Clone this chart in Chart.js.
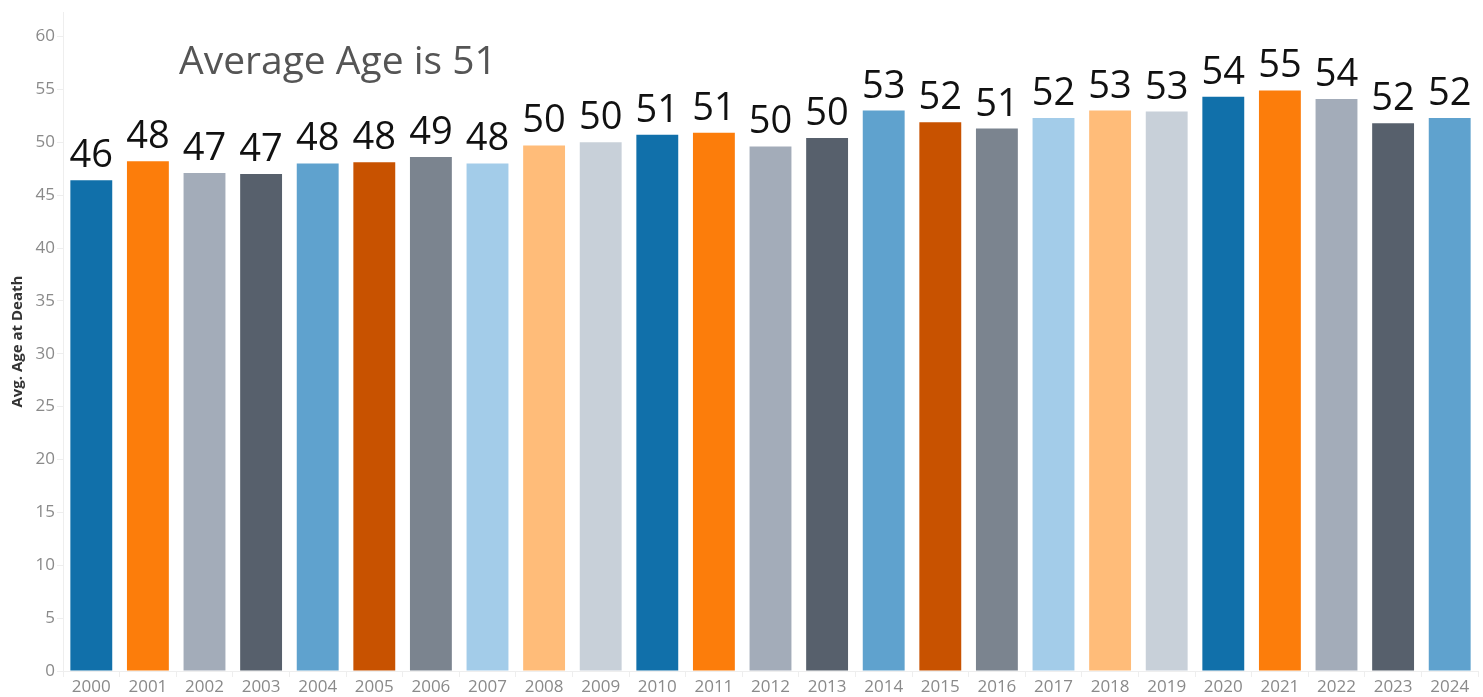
<!DOCTYPE html>
<html>
<head>
<meta charset="utf-8">
<script src="https://cdn.jsdelivr.net/npm/chart.js@4"></script>
<style>
  html, body { margin: 0; padding: 0; background: #fff; }
  #wrap { width: 1483px; height: 697px; }
</style>
</head>
<body>
<div id="wrap"><canvas id="ageChart" width="1483" height="697"></canvas></div>
<script>
// Dados do gráfico
const years = ['2000','2001','2002','2003','2004','2005','2006','2007','2008','2009',
               '2010','2011','2012','2013','2014','2015','2016','2017','2018','2019',
               '2020','2021','2022','2023','2024'];
const avgAge = [46.4, 48.2, 47.1, 47.0, 48.0, 48.1, 48.6, 48.0, 49.7, 50.0,
                50.7, 50.9, 49.6, 50.4, 53.0, 51.9, 51.3, 52.3, 53.0, 52.9,
                54.3, 54.9, 54.1, 51.8, 52.3];
const yTicks = [0, 5, 10, 15, 20, 25, 30, 35, 40, 45, 50, 55, 60];
const titleText = 'Average Age is 51';

const palette = ['#1170aa', '#fc7d0b', '#a3acb9', '#57606c', '#5fa2ce',
                 '#c85200', '#7b848f', '#a3cce9', '#ffbc79', '#c8d0d9'];
const barColors = years.map((y, i) => palette[i % palette.length]);

const fontFamily = '"Open Sans", "DejaVu Sans", sans-serif';

// rótulos acima das barras + título interno
const labelsPlugin = {
    id: 'barLabels',
    afterDatasetsDraw(chart) {
        const ctx = chart.ctx;
        const meta = chart.getDatasetMeta(0);
        ctx.save();
        ctx.fillStyle = '#111';
        ctx.font = '38px ' + fontFamily;
        ctx.textAlign = 'center';
        ctx.textBaseline = 'alphabetic';
        meta.data.forEach((bar, i) => {
            ctx.fillText(Math.round(avgAge[i]), bar.x, bar.y - 13);
        });
        ctx.fillStyle = '#555';
        ctx.font = '39px ' + fontFamily;
        ctx.textAlign = 'left';
        ctx.fillText(titleText, chart.chartArea.left + 116, 74);
        ctx.restore();
    }
};

const ctx = document.getElementById('ageChart').getContext('2d');
new Chart(ctx, {
    type: 'bar',
    data: {
        labels: years,
        datasets: [{
            label: 'Avg. Age at Death',
            data: avgAge,
            backgroundColor: barColors,
            barPercentage: 0.74,
            categoryPercentage: 1.0
        }]
    },
    options: {
        responsive: false,
        animation: false,
        layout: { padding: { top: 0, right: 5, left: 0, bottom: 0 } },
        plugins: {
            legend: { display: false },
            tooltip: { enabled: false }
        },
        scales: {
            x: {
                grid: { display: true, drawOnChartArea: false, tickLength: 6, color: '#eeeeee', offset: true },
                border: { display: true, color: '#eeeeee' },
                ticks: { color: '#8a8a8a', font: { family: fontFamily, size: 17 }, padding: 0, maxRotation: 0, autoSkip: false },
                afterFit(axis) { axis.height = 26; }
            },
            y: {
                min: 0,
                max: 62.3,
                afterBuildTicks(axis) { axis.ticks = yTicks.map(v => ({ value: v })); },
                grid: { display: true, drawOnChartArea: false, tickLength: 6, color: '#eeeeee' },
                border: { display: true, color: '#eeeeee' },
                ticks: { color: '#8a8a8a', font: { family: fontFamily, size: 17 }, padding: 2 },
                title: {
                    display: true,
                    text: 'Avg. Age at Death',
                    color: '#333',
                    font: { family: fontFamily, size: 15, weight: 'bold' },
                    padding: { top: 9, bottom: 0 }
                },
                afterFit(axis) { axis.width = 63; }
            }
        }
    },
    plugins: [labelsPlugin]
});
</script>
</body>
</html>
